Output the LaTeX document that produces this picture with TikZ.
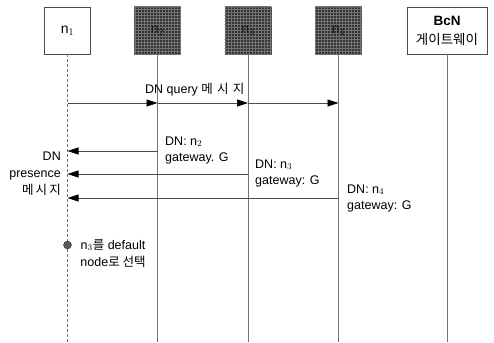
\documentclass[tikz,border=0pt]{standalone}
\usepackage{fontspec}
\setmainfont{Liberation Sans}
\newfontfamily\kr{Noto Sans CJK KR}
\usetikzlibrary{arrows.meta,patterns,calc}
\begin{document}
\begin{tikzpicture}[x=1pt,y=-1pt,
  font=\fontsize{12.5}{15}\selectfont,
  lbox/.style={draw=black!70,line width=0.6pt,minimum width=46pt,minimum height=47pt,inner sep=0pt},
  dbox/.style={lbox,fill=black!80},
  grd/.style={pattern=grid,pattern color=black!55},
  life/.style={draw=black!55,line width=0.7pt},
  msg/.style={draw=black!70,line width=0.6pt,-{Triangle[length=11pt,width=7pt,color=black]}},
  txt/.style={inner sep=0pt,align=left}]
\useasboundingbox (0,0) rectangle (494,342);
% participant boxes
\node[lbox,font=\fontsize{14}{16}\selectfont] (n1) at (67.5,30.5) {n$_1$};
\node[dbox] (n2) at (157.5,30.5) {};
\node[dbox] (n3) at (248,30.5) {};
\node[dbox] (n4) at (338.5,30.5) {};
\fill[grd] (n2.south west) rectangle (n2.north east);
\fill[grd] (n3.south west) rectangle (n3.north east);
\fill[grd] (n4.south west) rectangle (n4.north east);
\node[font=\fontsize{14}{16}\selectfont,text=black!90] (t2) at (n2) {n$_2$};
\node[font=\fontsize{14}{16}\selectfont,text=black!90] (t3) at (n3) {n$_3$};
\node[font=\fontsize{14}{16}\selectfont,text=black!90] (t4) at (n4) {n$_4$};
\node[lbox,minimum width=80pt,align=center,font=\fontsize{13.5}{19}\selectfont] (bcn) at (447,30.5) {\textbf{BcN}\\{\kr 게이트웨이}};
% lifelines
\coordinate (e1) at (n1.south |- 0,342);
\coordinate (e2) at (n2.south |- 0,342);
\coordinate (e3) at (n3.south |- 0,342);
\coordinate (e4) at (n4.south |- 0,342);
\coordinate (e5) at (bcn.south |- 0,342);
\draw[life,densely dashed] (n1.south) -- (e1);
\draw[life] (n2.south) -- (e2);
\draw[life] (n3.south) -- (e3);
\draw[life] (n4.south) -- (e4);
\draw[life] (bcn.south) -- (e5);
% query
\coordinate (q1) at (n1.south |- 0,103);
\coordinate (q2) at (n2.south |- 0,103);
\coordinate (q3) at (n3.south |- 0,103);
\coordinate (q4) at (n4.south |- 0,103);
\draw[msg] (q1) -- (q2);
\draw[msg] (q2) -- (q3);
\draw[msg] (q3) -- (q4);
\node[txt,anchor=west] (ql) at (145,90) {DN query {\kr 메\,\,시\,\,지}};
% presence
\coordinate (p2) at (n2.south |- 0,151);
\coordinate (p3) at (n3.south |- 0,174);
\coordinate (p4) at (n4.south |- 0,198);
\coordinate (r2) at (n1.south |- 0,151);
\coordinate (r3) at (n1.south |- 0,174);
\coordinate (r4) at (n1.south |- 0,198);
\draw[msg] (p2) -- (r2);
\draw[msg] (p3) -- (r3);
\draw[msg] (p4) -- (r4);
\node[txt,anchor=west,font=\fontsize{12.5}{16}\selectfont] (l2) at (165,150) {DN: n$_2$\\gateway. G};
\node[txt,anchor=west,font=\fontsize{12.5}{16}\selectfont] (l3) at (255,173) {DN: n$_3$\\gateway: G};
\node[txt,anchor=west,font=\fontsize{12.5}{16}\selectfont] (l4) at (347,198) {DN: n$_4$\\gateway: G};
\node[txt,align=right,anchor=east,font=\fontsize{12.5}{17}\selectfont] (pl) at (61,174) {DN\\presence\\{\kr 메\,시\,지}};
% selection
\coordinate (s1) at (n1.south |- 0,245);
\node[circle,draw=black!80,fill=black!65,inner sep=0pt,minimum size=8pt] (dot) at (s1) {};
\node[align=center,inner sep=0pt,font=\fontsize{12.5}{17}\selectfont] (sl) at (113,253) {n$_3${\kr 를} default\\node{\kr 로 선택}};
\end{tikzpicture}
\end{document}
